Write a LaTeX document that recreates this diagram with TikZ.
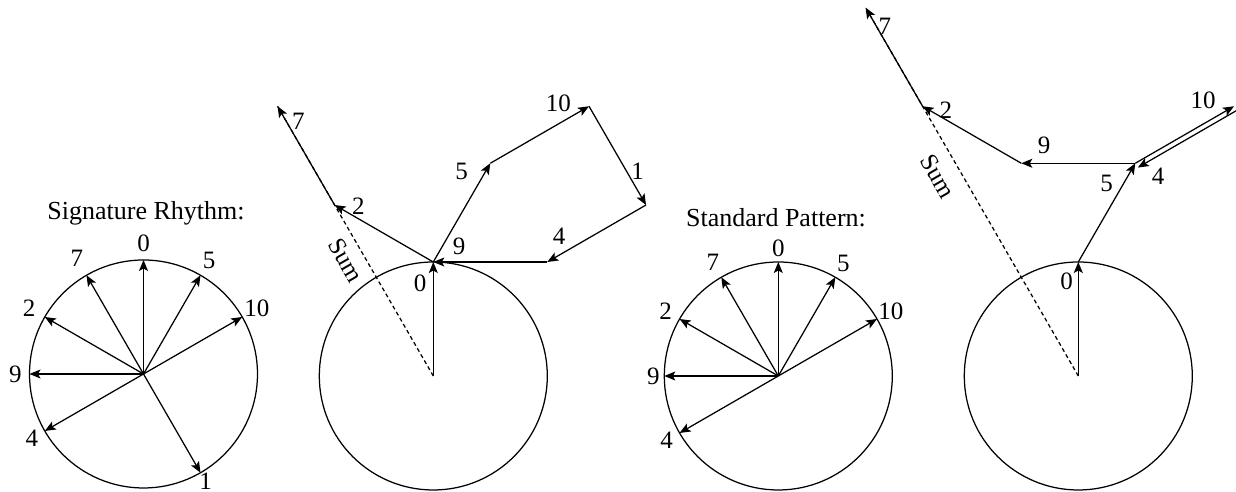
\documentclass[tikz,border=0pt]{standalone}
\usepackage{fontspec}
\setmainfont{Liberation Serif}
\usepackage{tikz}
\usetikzlibrary{arrows.meta,calc}
\newcommand{\rad}{114}

\begin{document}
\begin{tikzpicture}[
  x=0.4pt, y=0.4pt,
  font=\fontsize{10}{12}\selectfont,
  vec/.style={line width=0.5pt, -{Stealth[length=4.4pt, width=3.6pt, inset=1pt]}},
  ring/.style={line width=0.5pt},
  sumline/.style={line width=0.5pt, dash pattern=on 1.6pt off 1.2pt},
  title/.style={anchor=base, font=\fontsize{10.4}{12}\selectfont},
  tag/.style={inner sep=0pt}
]
  \useasboundingbox (0,0) rectangle (1236,492);

  % Signature rhythm, spokes
  \coordinate (sa) at (143.5,118);
  \draw[ring] (sa) circle (\rad);
  \node[title] (sat) at (146,272) {Signature Rhythm:};
  \foreach \k/\a/\r in {0/90/131,5/60/131,10/30/131,1/-60/124,4/-150/129,9/180/128,2/150/132,7/120/133} {
    \coordinate (sa\k) at ($(sa)+(\a:\rad)$);
    \draw[vec] (sa) -- (sa\k);
    \node[tag] (sal\k) at ($(sa)+(\a:\r)$) {\k};
  }

  % Signature rhythm, vector sum
  \coordinate (sb) at (433.3,116);
  \draw[ring] (sb) circle (\rad);
  \coordinate (sb0) at ($(sb)+(90:\rad)$);
  \coordinate (sb5) at ($(sb0)+(60:\rad)$);
  \coordinate (sb10) at ($(sb5)+(30:\rad)$);
  \coordinate (sb1) at ($(sb10)+(-60:\rad)$);
  \coordinate (sb4) at ($(sb1)+(-150:\rad)$);
  \coordinate (sb9) at ($(sb4)+(180:\rad)$);
  \coordinate (sb2) at ($(sb9)+(150:\rad)$);
  \coordinate (sb7) at ($(sb2)+(120:\rad)$);
  \draw[sumline] (sb) -- (sb7);
  \draw[vec] (sb) -- (sb0);
  \draw[vec] (sb0) -- (sb5);
  \draw[vec] (sb5) -- (sb10);
  \draw[vec] (sb10) -- (sb1);
  \draw[vec] (sb1) -- (sb4);
  \draw[vec] (sb4) -- (sb9);
  \draw[vec] (sb9) -- (sb2);
  \draw[vec] (sb2) -- (sb7);
  \node[tag] (sbl0) at ($(sb0)+(-13.3,-21.3)$) {0};
  \node[tag] (sbl5) at ($(sb5)+(-28.6,-8.4)$) {5};
  \node[tag] (sbl10) at ($(sb10)+(-30.7,3)$) {10};
  \node[tag] (sbl1) at ($(sb1)+(-8.3,33.3)$) {1};
  \node[tag] (sbl4) at ($(sb4)+(11.7,25.3)$) {4};
  \node[tag] (sbl9) at ($(sb9)+(25.7,15.3)$) {9};
  \node[tag] (sbl2) at ($(sb2)+(23.7,-1.7)$) {2};
  \node[tag] (sbl7) at ($(sb7)+(20.7,-15.4)$) {7};
  \node[tag, rotate=-60] (sbs) at (346,232) {Sum};

  % Standard pattern, spokes
  \coordinate (sc) at (778.3,116);
  \draw[ring] (sc) circle (\rad);
  \node[title] (sct) at (776,265.3) {Standard Pattern:};
  \foreach \k/\a/\r in {0/90/128,5/60/130,10/30/130,4/-150/129,9/180/125,2/150/130,7/120/131} {
    \coordinate (sc\k) at ($(sc)+(\a:\rad)$);
    \draw[vec] (sc) -- (sc\k);
    \node[tag] (scl\k) at ($(sc)+(\a:\r)$) {\k};
  }

  % Standard pattern, vector sum
  \coordinate (sd) at (1078.3,116);
  \draw[ring] (sd) circle (\rad);
  \coordinate (sd0) at ($(sd)+(90:\rad)$);
  \coordinate (sd5) at ($(sd0)+(60:\rad)$);
  \coordinate (sd10) at ($(sd5)+(30:\rad)$);
  \coordinate (sd4a) at ($(sd10)+(2.5,-4.3)$);
  \coordinate (sd4) at ($(sd5)+(2.5,-4.3)$);
  \coordinate (sd9) at ($(sd5)+(180:\rad)$);
  \coordinate (sd2) at ($(sd9)+(150:\rad)$);
  \coordinate (sd7) at ($(sd2)+(120:\rad)$);
  \draw[sumline] (sd) -- (sd7);
  \draw[vec] (sd) -- (sd0);
  \draw[vec] (sd0) -- (sd5);
  \draw[vec] (sd5) -- (sd10);
  \draw[vec] (sd4a) -- (sd4);
  \draw[vec] (sd5) -- (sd9);
  \draw[vec] (sd9) -- (sd2);
  \draw[vec] (sd2) -- (sd7);
  \node[tag] (sdl0) at ($(sd0)+(-11.6,-19.7)$) {0};
  \node[tag] (sdl5) at ($(sd5)+(-28.6,-20)$) {5};
  \node[tag] (sdl10) at ($(sd10)+(-31,6.3)$) {10};
  \node[tag] (sdl4) at ($(sd5)+(22.7,-12.7)$) {4};
  \node[tag] (sdl9) at ($(sd9)+(22.7,18.3)$) {9};
  \node[tag] (sdl2) at ($(sd2)+(23.4,-3.7)$) {2};
  \node[tag] (sdl7) at ($(sd7)+(19.4,-19)$) {7};
  \node[tag, rotate=-60] (sds) at (938.3,315.3) {Sum};
\end{tikzpicture}
\end{document}
